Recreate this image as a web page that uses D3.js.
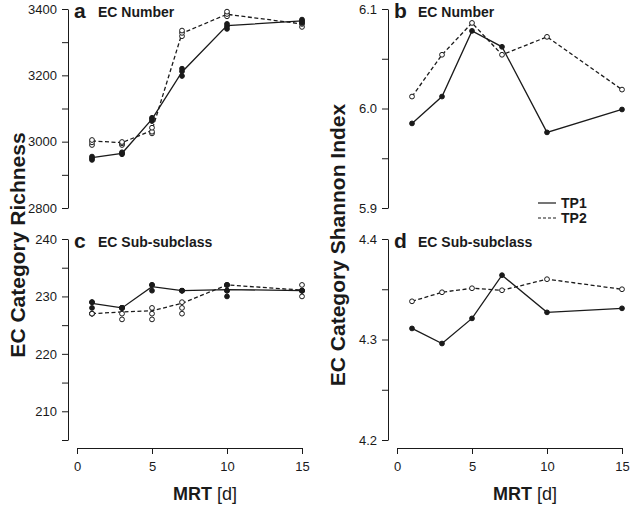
<!DOCTYPE html>
<html>
<head>
<meta charset="utf-8">
<script src="https://cdn.jsdelivr.net/npm/d3@7/dist/d3.min.js"></script>
<style>
  html, body { margin: 0; padding: 0; background: #fff; }
  svg { display: block; }
  text { font-family: "Liberation Sans", Arial, Helvetica, sans-serif; fill: #1a1a1a; }
</style>
</head>
<body>
<svg id="chart" width="630" height="507"></svg>
<script>
// ---------- DATA ----------
const mrt = [1, 3, 5, 7, 10, 15];
const xTicks = [0, 5, 10, 15];

// Panel a: EC Number richness
const aTP1Mean = [2952, 2965, 3068, 3210, 3350, 3364];
const aTP1Reps = [[2945, 2950, 2955], [2962, 2965, 2968], [3062, 3068, 3072], [3198, 3212, 3220], [3340, 3348, 3355], [3358, 3364, 3368]];
const aTP2Mean = [3002, 2997, 3034, 3327, 3384, 3355];
const aTP2Reps = [[2990, 2998, 3005], [2990, 2995, 2999], [3025, 3030, 3042], [3318, 3328, 3335], [3378, 3385, 3392], [3346, 3355, 3362]];
const aTicks = [2800, 2900, 3000, 3100, 3200, 3300, 3400];
const aLabels = [2800, 3000, 3200, 3400];

// Panel c: EC Sub-subclass richness
const cTP1Mean = [228.8, 228.0, 231.7, 231.0, 231.2, 231.0];
const cTP1Reps = [[229, 229, 228], [228, 228, 228], [232, 232, 231], [231, 231, 231], [231, 232, 230], [231, 231, 231]];
const cTP2Mean = [227.0, 227.3, 227.5, 228.8, 232.0, 231.1];
const cTP2Reps = [[227, 227, 227], [228, 227, 226], [228, 227, 226], [229, 228, 227], [232, 232, 231], [232, 231, 230]];
const cTicks = [205, 210, 215, 220, 225, 230, 235, 240];
const cLabels = [210, 220, 230, 240];

// Panel b: EC Number Shannon
const bTP1 = [5.985, 6.012, 6.078, 6.062, 5.976, 5.999];
const bTP2 = [6.012, 6.054, 6.086, 6.054, 6.072, 6.019];
const bTicks = [5.9, 5.95, 6.0, 6.05, 6.1];
const bLabels = [5.9, 6.0, 6.1];

// Panel d: EC Sub-subclass Shannon
const dTP1 = [4.311, 4.296, 4.321, 4.364, 4.327, 4.331];
const dTP2 = [4.338, 4.347, 4.351, 4.349, 4.360, 4.350];
const dTicks = [4.2, 4.25, 4.3, 4.35, 4.4];
const dLabels = [4.2, 4.3, 4.4];

const seriesNames = ["TP1", "TP2"];

// ---------- DRAW ----------
const svg = d3.select("#chart");
const ink = "#1a1a1a";

const xLeft = d3.scaleLinear().domain([0, 15]).range([77, 302]);
const xRight = d3.scaleLinear().domain([0, 15]).range([397, 622]);

function yAxis(g, scale, ticks, labels, fmt, xPos) {
  const ax = d3.axisLeft(scale).tickValues(ticks).tickSize(6).tickSizeOuter(0).tickPadding(5)
    .tickFormat(d => labels.some(l => Math.abs(l - d) < 1e-9) ? fmt(d) : "");
  const a = g.append("g").attr("transform", `translate(${xPos},0)`).call(ax);
  a.selectAll("path, line").attr("stroke", ink).attr("stroke-width", 1);
  a.selectAll("text").style("font-size", "13px").attr("fill", ink);
}

function xAxis(g, scale, yPos) {
  const ax = d3.axisBottom(scale).tickValues(xTicks).tickSize(6).tickSizeOuter(0).tickPadding(8).tickFormat(d3.format("d"));
  const a = g.append("g").attr("transform", `translate(0,${yPos})`).call(ax);
  a.selectAll("path, line").attr("stroke", ink).attr("stroke-width", 1);
  a.selectAll("text").style("font-size", "13px").attr("fill", ink);
}

function drawSeries(g, xs, ys, means, reps, dashed, filled) {
  const line = d3.line().x((d, i) => xs(mrt[i])).y(d => ys(d));
  g.append("path").datum(means).attr("d", line)
    .attr("fill", "none").attr("stroke", ink).attr("stroke-width", 1.3)
    .attr("stroke-dasharray", dashed ? "4,2.5" : null);
  const pts = [];
  if (reps) {
    reps.forEach((arr, i) => arr.forEach(v => pts.push([mrt[i], v])));
  } else {
    means.forEach((v, i) => pts.push([mrt[i], v]));
  }
  g.selectAll(null).data(pts).enter().append("circle")
    .attr("cx", d => xs(d[0])).attr("cy", d => ys(d[1])).attr("r", 2.4)
    .attr("fill", filled ? ink : "#fff").attr("stroke", ink).attr("stroke-width", 1);
}

function panelTitle(g, x, y, letter, title) {
  g.append("text").attr("x", x).attr("y", y).text(letter)
    .style("font-size", "21px").style("font-weight", "bold");
  g.append("text").attr("x", x + 24).attr("y", y - 1).text(title)
    .style("font-size", "14px").style("font-weight", "bold");
}

// Panel a
const yA = d3.scaleLinear().domain([2800, 3400]).range([208, 9]);
const gA = svg.append("g");
yAxis(gA, yA, aTicks, aLabels, d3.format("d"), 68);
drawSeries(gA, xLeft, yA, aTP2Mean, aTP2Reps, true, false);
drawSeries(gA, xLeft, yA, aTP1Mean, aTP1Reps, false, true);
panelTitle(gA, 74, 18, "a", "EC Number");

// Panel c
const yC = d3.scaleLinear().domain([205, 240]).range([440, 239]);
const gC = svg.append("g");
yAxis(gC, yC, cTicks, cLabels, d3.format("d"), 68);
xAxis(gC, xLeft, 448);
drawSeries(gC, xLeft, yC, cTP2Mean, cTP2Reps, true, false);
drawSeries(gC, xLeft, yC, cTP1Mean, cTP1Reps, false, true);
panelTitle(gC, 74, 248, "c", "EC Sub-subclass");

// Panel b
const yB = d3.scaleLinear().domain([5.9, 6.1]).range([208, 9]);
const gB = svg.append("g");
yAxis(gB, yB, bTicks, bLabels, d3.format(".1f"), 388);
drawSeries(gB, xRight, yB, bTP2, null, true, false);
drawSeries(gB, xRight, yB, bTP1, null, false, true);
panelTitle(gB, 394, 18, "b", "EC Number");

// Panel d
const yD = d3.scaleLinear().domain([4.2, 4.4]).range([440, 239]);
const gD = svg.append("g");
yAxis(gD, yD, dTicks, dLabels, d3.format(".1f"), 388);
xAxis(gD, xRight, 448);
drawSeries(gD, xRight, yD, dTP2, null, true, false);
drawSeries(gD, xRight, yD, dTP1, null, false, true);
panelTitle(gD, 394, 248, "d", "EC Sub-subclass");

// Axis titles
svg.append("text").attr("transform", "translate(25,245) rotate(-90)").attr("text-anchor", "middle")
  .text("EC Category Richness").style("font-size", "21px").style("font-weight", "bold");
svg.append("text").attr("transform", "translate(345,245) rotate(-90)").attr("text-anchor", "middle")
  .text("EC Category Shannon Index").style("font-size", "21px").style("font-weight", "bold");

[[205, xLeft], [525, xRight]].forEach(([cx]) => {
  const t = svg.append("text").attr("x", cx).attr("y", 500).attr("text-anchor", "middle").style("font-size", "18px");
  t.append("tspan").text("MRT").style("font-weight", "bold");
  t.append("tspan").text(" [d]");
});

// Legend
const leg = svg.append("g");
seriesNames.forEach((name, i) => {
  const y = 203 + i * 15;
  leg.append("line").attr("x1", 538).attr("x2", 556).attr("y1", y).attr("y2", y)
    .attr("stroke", ink).attr("stroke-width", 1.2).attr("stroke-dasharray", i === 1 ? "3,2" : null);
  leg.append("text").attr("x", 561).attr("y", y + 5).text(name)
    .style("font-size", "14px").style("font-weight", "bold");
});
</script>
</body>
</html>
